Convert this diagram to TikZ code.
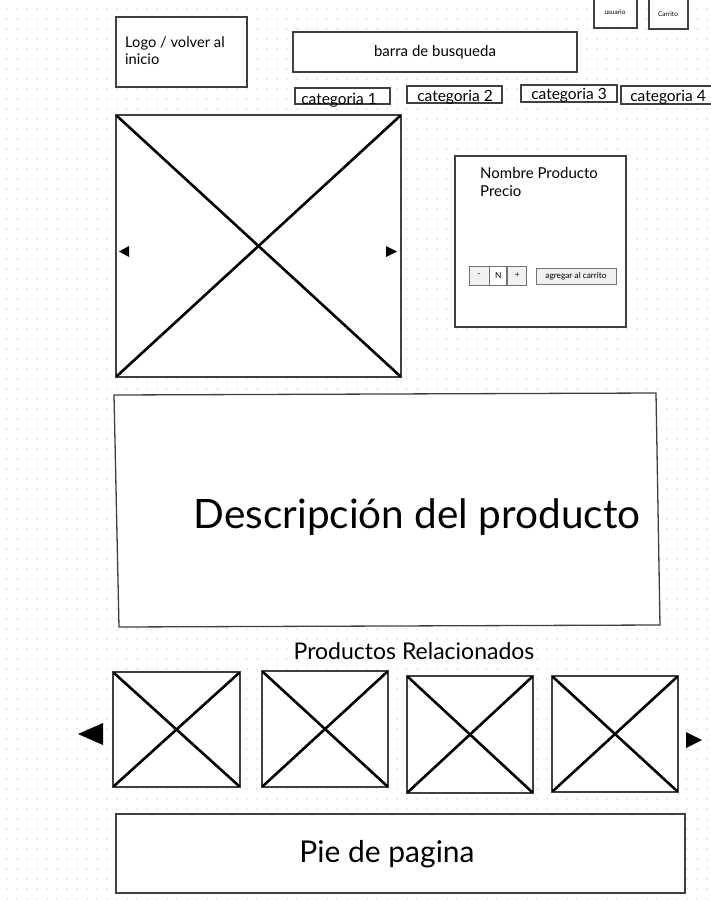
\documentclass[tikz,border=0pt]{standalone}
\usepackage{fontspec}
\setmainfont{Lato}
\usetikzlibrary{positioning}

\begin{document}
\begin{tikzpicture}[x=1pt,y=-1pt,
    frame/.style={draw=black!75, line width=1.3pt, fill=white},
    btn/.style={draw=black!55, line width=0.9pt, fill=black!6, inner sep=0pt, font=\fontsize{8.3}{9}\selectfont},
    cross/.style={line width=2.6pt, line cap=round}]
  \useasboundingbox (0,0) rectangle (711,900);
  % dot grid
  \foreach \i in {0,...,70}
    \foreach \j in {0,...,89}
      \fill[black!15] (7+10*\i, 9+10*\j) circle (0.8);
  % header
  \draw[frame] (116,17) rectangle (247,87);
  \node[anchor=north west, align=left, inner sep=0pt, font=\fontsize{14.7}{17}\selectfont] (logo) at (125,36) {Logo / volver al\\inicio};
  \draw[frame] (293,32) rectangle (577,72);
  \node[font=\fontsize{15}{17}\selectfont] (search) at (435,52) {barra de busqueda};
  \draw[frame] (594,-2) rectangle (637,28);
  \node[font=\fontsize{6.5}{7}\selectfont] (user) at (615,12) {usuario};
  \draw[frame] (649,-2) rectangle (688,29);
  \node[font=\fontsize{6.5}{7}\selectfont] (cart) at (668,14) {Carrito};
  \draw[frame] (295,88) rectangle (390,104);
  \node[font=\fontsize{15.5}{17}\selectfont] (cat1) at (339,100) {categoria 1};
  \draw[frame] (407,86) rectangle (502,103);
  \node[font=\fontsize{15.5}{17}\selectfont] (cat2) at (455,97) {categoria 2};
  \draw[frame] (521,85) rectangle (617,102);
  \node[font=\fontsize{15.5}{17}\selectfont] (cat3) at (569,95) {categoria 3};
  \draw[frame] (621,86) rectangle (713,104);
  \node[font=\fontsize{15.5}{17}\selectfont] (cat4) at (668,97) {categoria 4};
  % main image
  \draw[frame] (116,115) rectangle (401,377);
  \draw[cross] (117,116) -- (400,376);
  \draw[cross] (117,376) -- (400,116);
  \fill[black] (119,251.5) -- (129,246) -- (129,257) -- cycle;
  \fill[black] (397,251.5) -- (386,246) -- (386,257) -- cycle;
  % product info
  \draw[frame] (455,156) rectangle (626,327);
  \node[anchor=north west, align=left, inner sep=0pt, font=\fontsize{15}{18}\selectfont] (name) at (480,167) {Nombre Producto\\Precio};
  \node[btn, minimum width=20pt, minimum height=19pt] (minus) at (479,275.5) {-};
  \node[btn, fill=white, minimum width=17pt, minimum height=19pt, right=0pt of minus] (qty) {N};
  \node[btn, minimum width=19pt, minimum height=19pt, right=0pt of qty] (plus) {+};
  \node[btn, minimum width=80pt, minimum height=16pt] (add) at (576,276) {agregar al carrito};
  % description
  \draw[frame] (114,395) -- (656,393) -- (660,625) -- (119,627) -- cycle;
  \node[font=\fontsize{40.5}{46}\selectfont] (desc) at (417,517) {Descripción del producto};
  % related products
  \node[font=\fontsize{23}{26}\selectfont] (related) at (414,651) {Productos Relacionados};
  \foreach \x/\y/\w/\h in {113/672/127/115, 262/671/126/116, 407/676/126/117, 552/676/126/116} {
    \draw[frame] (\x,\y) rectangle (\x+\w,\y+\h);
  }
  \foreach \x/\y/\w/\h in {113/672/127/115, 262/671/126/116, 407/676/126/117, 552/676/126/116} {
    \draw[cross] (\x+1,\y+1) -- (\x+\w-1,\y+\h-1);
    \draw[cross] (\x+1,\y+\h-1) -- (\x+\w-1,\y+1);
  }
  \fill[black] (78,734) -- (103,723) -- (103,745) -- cycle;
  \fill[black] (702,740) -- (686,732) -- (686,748) -- cycle;
  % footer
  \draw[frame] (116,814) rectangle (685,893);
  \node[font=\fontsize{30}{34}\selectfont] (footer) at (387,854) {Pie de pagina};
\end{tikzpicture}
\end{document}
